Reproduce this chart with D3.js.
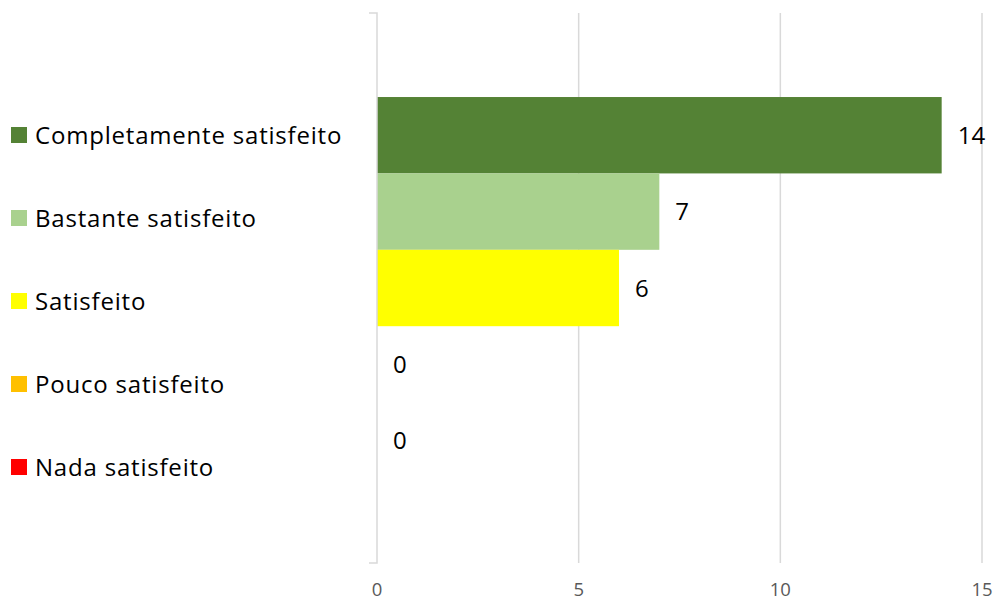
<!DOCTYPE html>
<html><head><meta charset="utf-8">
<script src="https://cdn.jsdelivr.net/npm/d3@7"></script>
<style>body{margin:0;background:#fff}svg{display:block}</style>
</head><body><svg id="c" width="996" height="602"></svg>
<script>
const categories = ["Completamente satisfeito","Bastante satisfeito","Satisfeito","Pouco satisfeito","Nada satisfeito"];
const values = [14, 7, 6, 0, 0];
const colors = ["#548235","#A9D18E","#FFFF00","#FFC000","#FF0000"];
const ticks = [0, 5, 10, 15];

const svg = d3.select("#c");
const font = "'Open Sans', sans-serif";
const plotTop = 13, plotBottom = 563;
const x = d3.scaleLinear().domain([0, 15]).range([377, 982]);
const outer = d3.scaleBand().domain(["g"]).range([plotTop, plotBottom]).paddingInner(0).paddingOuter(0.22);
const y = d3.scaleBand().domain(categories).range([outer("g"), outer("g") + outer.bandwidth()]);

// gridlines
svg.append("g").selectAll("line").data(ticks.filter(t => t > 0)).join("line")
  .attr("x1", d => x(d)).attr("x2", d => x(d))
  .attr("y1", plotTop).attr("y2", plotBottom)
  .attr("stroke", "#d9d9d9").attr("stroke-width", 1.5);

// bars
svg.append("g").selectAll("rect").data(categories).join("rect")
  .attr("x", x(0)).attr("y", d => y(d))
  .attr("width", (d, i) => x(values[i]) - x(0))
  .attr("height", y.bandwidth())
  .attr("fill", (d, i) => colors[i]);

// vertical axis line with end ticks
const ax = svg.append("g").attr("stroke", "#d9d9d9").attr("stroke-width", 1.5).attr("fill", "none");
ax.append("path").attr("d", `M${x(0)-8},${plotTop}H${x(0)}V${plotBottom}H${x(0)-8}`);

// x tick labels
svg.append("g").selectAll("text").data(ticks).join("text")
  .attr("x", d => x(d)).attr("y", 596)
  .attr("text-anchor", "middle")
  .attr("font-family", font).attr("font-size", 18.5).attr("fill", "#595959")
  .text(d => d);

// data labels
svg.append("g").selectAll("text").data(categories).join("text")
  .attr("x", (d, i) => x(values[i]) + 16)
  .attr("y", d => y(d) + y.bandwidth() / 2)
  .attr("dy", "0.36em")
  .attr("font-family", font).attr("font-size", 24).attr("fill", "#000")
  .text((d, i) => values[i]);

// legend
const ly = d3.scalePoint().domain(categories).range([135, 467]);
const lg = svg.append("g").selectAll("g").data(categories).join("g")
  .attr("transform", d => `translate(0,${ly(d)})`);
lg.append("rect").attr("x", 11).attr("y", -8).attr("width", 16).attr("height", 16)
  .attr("fill", (d, i) => colors[i]);
lg.append("text").attr("x", 35).attr("dy", "0.36em")
  .attr("font-family", font).attr("font-size", 24).attr("letter-spacing", 0.8).attr("fill", "#000")
  .text(d => d);
</script></body></html>
